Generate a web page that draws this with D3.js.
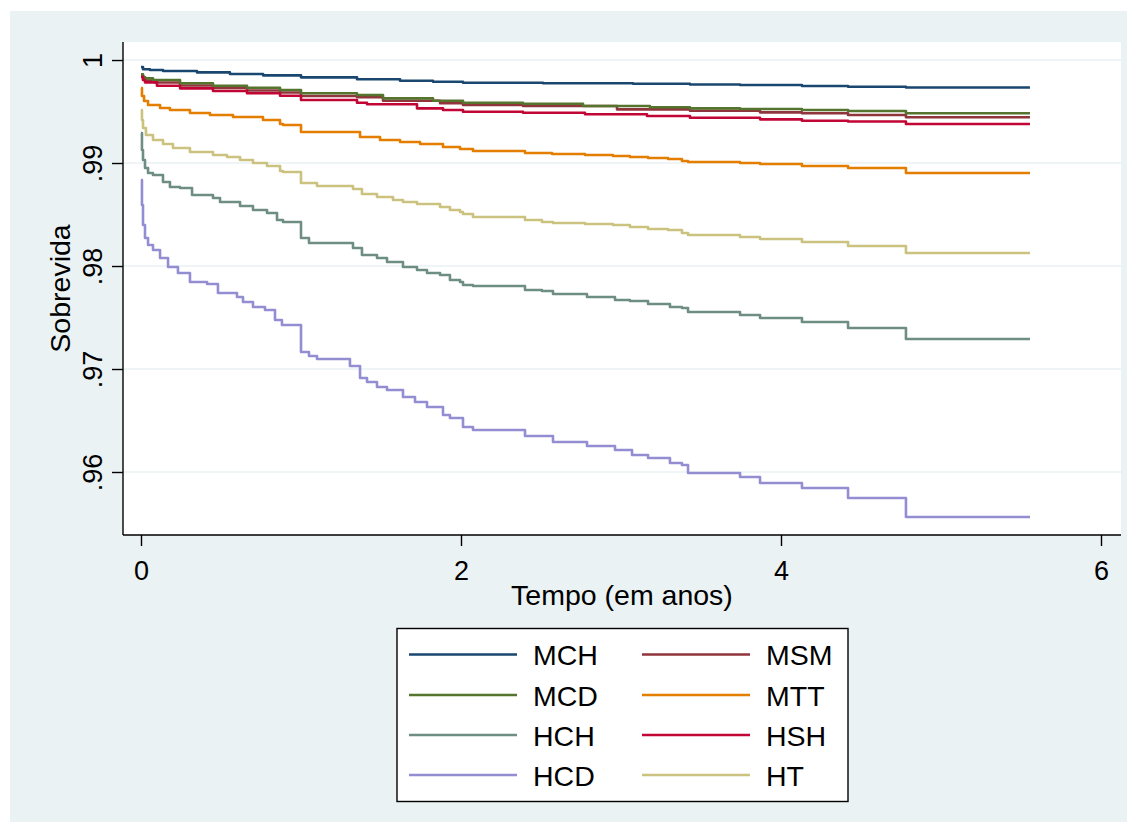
<!DOCTYPE html>
<html>
<head>
<meta charset="utf-8">
<script src="https://cdn.jsdelivr.net/npm/d3@7"></script>
<style>
  html, body { margin: 0; padding: 0; background: #ffffff; }
  svg { display: block; }
  text { font-family: "Liberation Sans", Arial, sans-serif; fill: #000; }
</style>
</head>
<body>
<svg id="chart" width="1137" height="832"></svg>
<script>
// ---- Data (time in years, survival probability) ----
const seriesNames = ["MCH", "MSM", "MCD", "MTT", "HCH", "HSH", "HCD", "HT"];
const seriesColors = ["#1a476f", "#90353b", "#55752f", "#e37e00", "#6e8e84", "#c10534", "#938dd2", "#cac27e"];

const MCH = [[0,0.99932],[0.0125,0.99910],[0.056,0.99903],[0.138,0.99893],[0.35,0.99880],[0.556,0.99864],[0.763,0.99851],[1.0,0.99832],[1.35,0.99813],[1.619,0.99799],[1.825,0.99789],[2.0125,0.99779],[2.5125,0.99774],[3.075,0.99769],[3.431,0.99762],[3.744,0.99757],[4.131,0.99748],[4.419,0.99741],[4.781,0.99733],[5.556,0.99733]];
const MSM = [[0,0.99850],[0.0125,0.99816],[0.025,0.99801],[0.0875,0.99782],[0.244,0.99752],[0.45,0.99728],[0.6625,0.99704],[0.869,0.99684],[1.0,0.99650],[1.35,0.99638],[1.5125,0.99605],[1.869,0.99580],[2.0125,0.99563],[2.3875,0.99553],[2.975,0.99521],[3.431,0.99508],[3.869,0.99492],[4.131,0.99483],[4.419,0.99466],[4.781,0.99444],[5.556,0.99444]];
const MCD = [[0,0.99861],[0.0125,0.99835],[0.025,0.99822],[0.075,0.99806],[0.244,0.99774],[0.45,0.99750],[0.6625,0.99731],[0.869,0.99709],[1.0,0.99677],[1.35,0.99660],[1.5125,0.99628],[1.825,0.99605],[2.0125,0.99585],[2.3875,0.99575],[2.7625,0.99553],[3.181,0.99541],[3.431,0.99531],[3.744,0.99524],[4.131,0.99515],[4.419,0.99505],[4.781,0.99483],[5.556,0.99483]];
const MTT = [[0,0.99728],[0.006,0.99650],[0.019,0.99602],[0.044,0.99563],[0.119,0.99534],[0.181,0.99515],[0.306,0.99485],[0.431,0.99466],[0.575,0.99447],[0.7625,0.99417],[0.869,0.99379],[0.8875,0.99369],[1.0,0.99301],[1.369,0.99252],[1.494,0.99223],[1.619,0.99204],[1.744,0.99184],[1.8875,0.99155],[1.994,0.99136],[2.075,0.99117],[2.4,0.99097],[2.569,0.99087],[2.775,0.99078],[2.95,0.99068],[3.056,0.99058],[3.169,0.99049],[3.294,0.99039],[3.381,0.99019],[3.419,0.99010],[3.744,0.99000],[3.869,0.98990],[4.131,0.98971],[4.419,0.98951],[4.781,0.98903],[5.556,0.98903]];
const HCH = [[0,0.99291],[0.006,0.99126],[0.0125,0.99029],[0.025,0.98951],[0.044,0.98903],[0.075,0.98883],[0.1375,0.98816],[0.181,0.98767],[0.244,0.98757],[0.319,0.98689],[0.45,0.98660],[0.494,0.98621],[0.619,0.98583],[0.7,0.98544],[0.7875,0.98515],[0.85,0.98447],[0.8875,0.98427],[1.0,0.98272],[1.05,0.98223],[1.325,0.98175],[1.381,0.98107],[1.475,0.98078],[1.5375,0.98039],[1.6375,0.97990],[1.725,0.97961],[1.7875,0.97932],[1.869,0.97913],[1.931,0.97864],[1.994,0.97845],[2.0125,0.97816],[2.075,0.97806],[2.4,0.97767],[2.506,0.97757],[2.575,0.97728],[2.7875,0.97699],[2.9625,0.97670],[3.056,0.97660],[3.169,0.97631],[3.306,0.97602],[3.381,0.97592],[3.419,0.97553],[3.744,0.97524],[3.869,0.97495],[4.131,0.97456],[4.419,0.97398],[4.781,0.97291],[5.556,0.97291]];
const HSH = [[0,0.99838],[0.0125,0.99806],[0.025,0.99783],[0.1,0.99750],[0.244,0.99725],[0.45,0.99699],[0.6625,0.99677],[0.869,0.99653],[1.0,0.99612],[1.35,0.99585],[1.4125,0.99570],[1.725,0.99531],[1.8875,0.99515],[2.0125,0.99498],[2.3875,0.99488],[2.775,0.99473],[3.1625,0.99456],[3.431,0.99440],[3.869,0.99424],[4.131,0.99411],[4.419,0.99403],[4.781,0.99379],[5.556,0.99379]];
const HCD = [[0,0.98835],[0.006,0.98592],[0.0125,0.98398],[0.025,0.98272],[0.044,0.98204],[0.075,0.98155],[0.119,0.98078],[0.169,0.97990],[0.231,0.97932],[0.306,0.97845],[0.413,0.97825],[0.481,0.97738],[0.6,0.97699],[0.6375,0.97650],[0.7,0.97602],[0.775,0.97573],[0.8375,0.97476],[0.881,0.97427],[1.0,0.97165],[1.05,0.97126],[1.1,0.97097],[1.306,0.97029],[1.369,0.96913],[1.4125,0.96874],[1.475,0.96825],[1.5375,0.96796],[1.6375,0.96728],[1.7125,0.96680],[1.7875,0.96631],[1.8875,0.96553],[1.931,0.96524],[2.0125,0.96437],[2.075,0.96408],[2.4,0.96350],[2.575,0.96291],[2.7875,0.96252],[2.9625,0.96214],[3.069,0.96165],[3.169,0.96136],[3.306,0.96087],[3.381,0.96068],[3.419,0.95990],[3.744,0.95951],[3.869,0.95893],[4.131,0.95845],[4.419,0.95748],[4.781,0.95563],[5.556,0.95563]];
const HT = [[0,0.99515],[0.006,0.99417],[0.0125,0.99340],[0.031,0.99272],[0.075,0.99223],[0.1375,0.99184],[0.2,0.99146],[0.306,0.99107],[0.45,0.99078],[0.5375,0.99058],[0.619,0.99029],[0.7,0.99000],[0.7875,0.98971],[0.869,0.98922],[0.8875,0.98913],[1.0,0.98806],[1.1,0.98777],[1.325,0.98748],[1.381,0.98699],[1.475,0.98670],[1.575,0.98641],[1.6375,0.98621],[1.725,0.98602],[1.869,0.98573],[1.931,0.98544],[1.994,0.98524],[2.0125,0.98505],[2.075,0.98476],[2.4,0.98447],[2.506,0.98427],[2.575,0.98417],[2.775,0.98408],[2.95,0.98398],[3.056,0.98379],[3.169,0.98359],[3.294,0.98350],[3.381,0.98320],[3.419,0.98301],[3.744,0.98282],[3.869,0.98262],[4.131,0.98233],[4.419,0.98194],[4.781,0.98126],[5.556,0.98126]];

const seriesData = [MCH, MSM, MCD, MTT, HCH, HSH, HCD, HT];

const xTicks = [0, 2, 4, 6];
const yTicks = [0.96, 0.97, 0.98, 0.99, 1];
const yTickLabels = [".96", ".97", ".98", ".99", "1"];
const xTitle = "Tempo (em anos)";
const yTitle = "Sobrevida";

// ---- Layout ----
const svg = d3.select("#chart");
const bg = "#eaf2f3";
const plot = { left: 123, right: 1121, top: 42, bottom: 535 };
const FS = 27;      // tick labels
const FT = 28.5;    // titles and legend

svg.append("rect").attr("x", 10).attr("y", 11).attr("width", 1117).attr("height", 811).attr("fill", bg);
svg.append("rect").attr("x", plot.left).attr("y", plot.top)
  .attr("width", plot.right - plot.left).attr("height", plot.bottom - plot.top).attr("fill", "#fff");

const x = d3.scaleLinear().domain([-0.1125, 6.125]).range([plot.left, plot.right]);
const y = d3.scaleLinear().domain([0.953883, 1.00175]).range([plot.bottom, plot.top]);

// gridlines
svg.append("g").selectAll("line").data(yTicks).join("line")
  .attr("x1", plot.left).attr("x2", plot.right)
  .attr("y1", d => y(d)).attr("y2", d => y(d))
  .attr("stroke", bg).attr("stroke-width", 1.6);

// lines
const line = d3.line().x(d => x(d[0])).y(d => y(d[1])).curve(d3.curveStepAfter);
const gLines = svg.append("g");
seriesData.forEach((data, i) => {
  gLines.append("path").datum(data).attr("d", line)
    .attr("fill", "none").attr("stroke", seriesColors[i])
    .attr("stroke-width", 2.6).attr("stroke-linejoin", "round");
});

// y axis
const yAxis = d3.axisLeft(y).tickValues(yTicks).tickSize(11).tickFormat((d, i) => yTickLabels[i]);
const gy = svg.append("g").attr("transform", `translate(${plot.left},0)`).call(yAxis);
gy.select(".domain").remove();
gy.selectAll(".tick line").attr("stroke", "#000").attr("stroke-width", 1.4);
gy.selectAll(".tick text")
  .attr("x", 0).attr("dy", null).attr("y", 0)
  .attr("transform", "translate(-21,0) rotate(-90)")
  .attr("text-anchor", "middle")
  .style("font-size", FS + "px").style("font-family", '"Liberation Sans", Arial, sans-serif');
svg.append("line").attr("x1", plot.left).attr("x2", plot.left)
  .attr("y1", plot.top).attr("y2", plot.bottom).attr("stroke", "#000").attr("stroke-width", 1.4);

// x axis
const xAxis = d3.axisBottom(x).tickValues(xTicks).tickSize(11).tickFormat(d3.format("d"));
const gx = svg.append("g").attr("transform", `translate(0,${plot.bottom})`).call(xAxis);
gx.select(".domain").remove();
gx.selectAll(".tick line").attr("stroke", "#000").attr("stroke-width", 1.4);
gx.selectAll(".tick text").attr("y", 45).attr("dy", null)
  .style("font-size", FS + "px").style("font-family", '"Liberation Sans", Arial, sans-serif');
svg.append("line").attr("x1", plot.left).attr("x2", plot.right)
  .attr("y1", plot.bottom).attr("y2", plot.bottom).attr("stroke", "#000").attr("stroke-width", 1.4);

// axis titles
svg.append("text").attr("x", (plot.left + plot.right) / 2).attr("y", 605)
  .attr("text-anchor", "middle").style("font-size", FT + "px").text(xTitle);
svg.append("text").attr("transform", `translate(70,${(plot.top + plot.bottom) / 2}) rotate(-90)`)
  .attr("text-anchor", "middle").style("font-size", FT + "px").text(yTitle);

// legend
const lg = svg.append("g");
lg.append("rect").attr("x", 397).attr("y", 628.5).attr("width", 451).attr("height", 173)
  .attr("fill", "#fff").attr("stroke", "#000").attr("stroke-width", 1.4);
const colX = [409, 642];
const rowY = [654.5, 695, 735, 775];
seriesNames.forEach((name, i) => {
  const c = i % 2, r = Math.floor(i / 2);
  lg.append("line").attr("x1", colX[c]).attr("x2", colX[c] + 108)
    .attr("y1", rowY[r]).attr("y2", rowY[r])
    .attr("stroke", seriesColors[i]).attr("stroke-width", 2.6);
  lg.append("text").attr("x", colX[c] + 124).attr("y", rowY[r] + 10.5)
    .style("font-size", FT + "px").text(name);
});
</script>
</body>
</html>
